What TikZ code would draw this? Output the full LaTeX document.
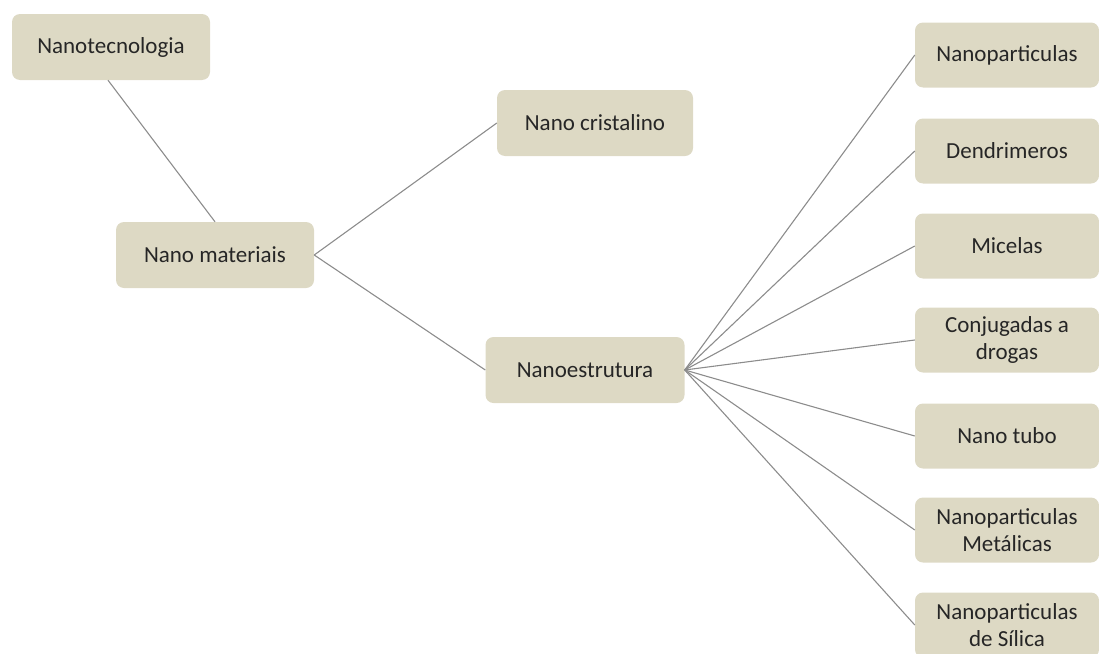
\documentclass[tikz,border=0pt]{standalone}
\usepackage{fontspec}
\setmainfont{Carlito}
\definecolor{boxtan}{HTML}{DDD9C4}
\definecolor{linkgray}{HTML}{8C8C8C}
\tikzset{
  box/.style={fill=boxtan, rounded corners=8pt, minimum width=198pt, minimum height=66pt,
    align=center, font=\fontsize{23}{27}\selectfont, text=black!85, inner sep=2pt},
  leaf/.style={box, minimum width=184pt, minimum height=65pt},
  link/.style={draw=linkgray, line width=1.1pt}
}

\begin{document}
\begin{tikzpicture}[x=1pt,y=-1pt]
    \useasboundingbox (0,0) rectangle (1099,653);
    \node[box] (tec) at (111,47) {Nanotecnologia};
    \node[box] (mat) at (215,255) {Nano materiais};
    \node[box,minimum width=196pt] (cri) at (595,123) {Nano cristalino};
    \node[box,minimum width=199pt] (est) at (585,370) {Nanoestrutura};
    % right column
    \node[leaf] (np) at (1007,55) {Nanoparticulas};
    \node[leaf] (den) at (1007,151) {Dendrimeros};
    \node[leaf] (mic) at (1007,246) {Micelas};
    \node[leaf] (con) at (1007,340) {Conjugadas a\\drogas};
    \node[leaf] (tub) at (1007,436) {Nano tubo};
    \node[leaf] (met) at (1007,530) {Nanoparticulas\\Metálicas};
    \node[leaf] (sil) at (1007,625) {Nanoparticulas\\de Sílica};
    \draw[link] ([xshift=-3pt]tec.south) -- (mat.north);
    \draw[link] (mat.east) -- (cri.west);
    \draw[link] (mat.east) -- (est.west);
    \foreach \n in {np,den,mic,con,tub,met,sil}
        \draw[link] (est.east) -- (\n.west);
\end{tikzpicture}
\end{document}
